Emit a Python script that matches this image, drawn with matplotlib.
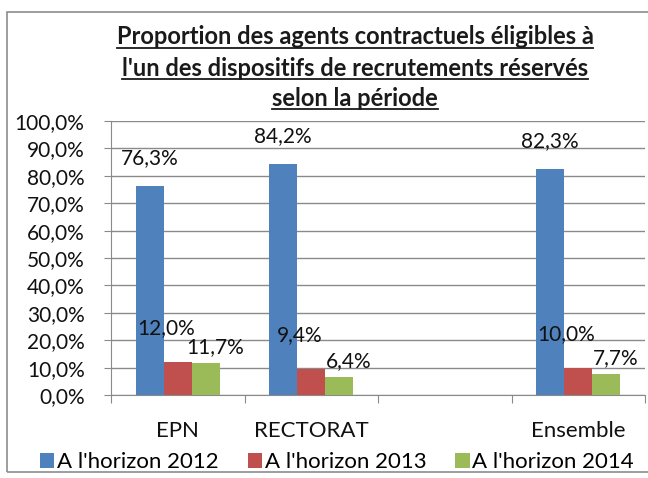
#bar chart: proportion des agents contractuels eligibles
import numpy as np
import matplotlib.pyplot as plt
from matplotlib.lines import Line2D
from matplotlib.patches import Rectangle

plt.rcParams['font.family'] = ['Lato', 'DejaVu Sans']

#data
categories = ['EPN', 'RECTORAT', '', 'Ensemble']
series_names = ["A l'horizon 2012", "A l'horizon 2013", "A l'horizon 2014"]
v2012 = [76.3, 84.2, np.nan, 82.3]
v2013 = [12.0, 9.4, np.nan, 10.0]
v2014 = [11.7, 6.4, np.nan, 7.7]
title_lines = ["Proportion des agents contractuels éligibles à",
               "l'un des dispositifs de recrutements réservés",
               "selon la période"]

colors = ['#4F81BD', '#C0504D', '#9BBB59']
# label offsets in pixels (excel moved them a bit)
offsets = [(0, 28), (-12, 34), (9, 16)]

W, H = 648, 478
fig = plt.figure(figsize=(W / 100, H / 100), dpi=100)
ax = fig.add_axes([111 / W, 1 - 395 / H, (645 - 111) / W, (395 - 121) / H])

# outer frame of the chart
fig.patches.append(Rectangle((7 / W, 1 - 472 / H), 1.0, (472 - 12) / H,
                             transform=fig.transFigure, fill=False,
                             edgecolor='#8c8c8c', lw=1.2, zorder=0))

x = np.arange(len(categories))
bw = 0.21
allvals = [v2012, v2013, v2014]
for i in range(3):
    pos = x + (i - 1) * bw
    vals = np.array(allvals[i])
    ax.bar(pos, vals, bw, color=colors[i], label=series_names[i], zorder=3)
    for p, v in zip(pos, vals):
        if np.isnan(v):
            continue
        ax.annotate(('%.1f%%' % v).replace('.', ','), (p, v),
                    xytext=offsets[i], textcoords='offset pixels',
                    ha='center', va='center', fontsize=15, color='#111111',
                    zorder=5)

ax.set_ylim(0, 100)
ax.set_xlim(-0.5, len(categories) - 0.5)
ax.set_yticks(np.arange(0, 101, 10))
ax.set_yticklabels([('%.1f%%' % t).replace('.', ',') for t in np.arange(0, 101, 10)],
                   fontsize=15, color='#111111')
ax.yaxis.grid(True, color='#8a8a8a', lw=1.0, zorder=0)
ax.set_axisbelow(True)

# category ticks sit between the groups
ax.set_xticks(np.arange(-0.5, len(categories), 1))
ax.set_xticklabels([])
ax.set_xticks(x, minor=True)
ax.set_xticklabels(categories, minor=True, fontsize=16, color='#111111')
ax.tick_params(axis='x', which='minor', length=0, pad=19)
ax.tick_params(axis='x', which='major', length=6, color='#8a8a8a')
ax.tick_params(axis='y', length=5, color='#8a8a8a', pad=14)

for s in ['top', 'right']:
    ax.spines[s].set_visible(False)
ax.spines['left'].set_color('#8a8a8a')
ax.spines['bottom'].set_color('#8a8a8a')

fig.legend(loc='center', bbox_to_anchor=(337 / W, 1 - 462 / H), ncol=3,
           frameon=False, fontsize=16, handlelength=0.65, handleheight=0.65,
           handletextpad=0.12, columnspacing=1.3, borderpad=0)

# title with underline
ys = [37, 68, 98]
texts = []
for t, yy in zip(title_lines, ys):
    texts.append(fig.text(355 / W, 1 - yy / H, t, ha='center', va='center',
                          fontsize=17, fontweight='bold', color='#1a1a1a'))
fig.canvas.draw()
r = fig.canvas.get_renderer()
for t in texts:
    bb = t.get_window_extent(r)
    yline = bb.y0 + 1
    fig.lines.append(Line2D([bb.x0 / W, bb.x1 / W], [yline / H, yline / H],
                            transform=fig.transFigure, color='#1a1a1a', lw=1.3))

fig.savefig('out.png', dpi=100)
